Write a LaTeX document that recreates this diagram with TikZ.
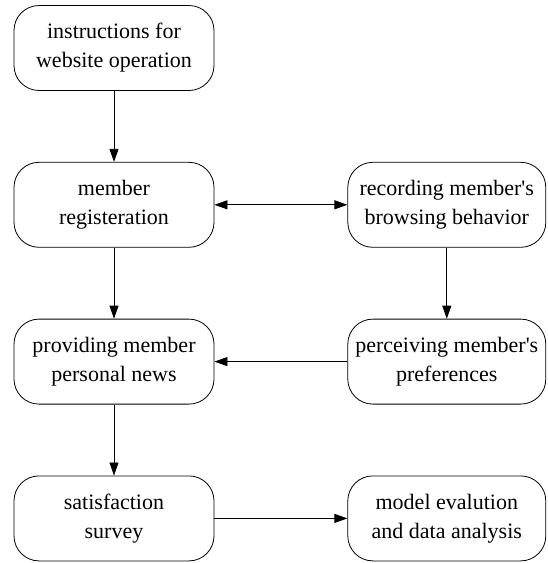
\documentclass[tikz,border=0pt]{standalone}
\usepackage{fontspec}
\setmainfont{Liberation Serif}[Ligatures=TeX]
\usetikzlibrary{arrows.meta,positioning}
\tikzset{
  stepbox/.style={draw, line width=0.8pt, rounded corners=25pt, align=center,
    minimum width=200pt, minimum height=85pt, inner sep=0pt,
    font=\rmfamily\fontsize{22}{29}\selectfont},
  flow/.style={->, line width=0.8pt}
}
\begin{document}
\begin{tikzpicture}[x=1pt, y=-1pt, >={Triangle[length=13pt,width=9pt]}]
\useasboundingbox (0,0) rectangle (547,563);
% linke Spalte
\node[stepbox] (instr) at (114,48) {instructions for\\website operation};
\node[stepbox, below=71pt of instr] (reg) {member\\registeration};
\node[stepbox, below=71pt of reg] (news) {providing member\\personal news};
\node[stepbox, below=71pt of news] (survey) {satisfaction\\survey};
% rechte Spalte
\node[stepbox, minimum width=198pt, right=133pt of reg] (rec) {recording member\textquotesingle s\\browsing behavior};
\node[stepbox, minimum width=198pt, right=133pt of news] (pref) {perceiving member\textquotesingle s\\preferences};
\node[stepbox, minimum width=198pt, right=133pt of survey] (eval) {model evalution\\and data analysis};
% Pfeile
\draw[flow] (instr) -- (reg);
\draw[flow] (reg) -- (news);
\draw[flow] (news) -- (survey);
\draw[flow, <->] (reg) -- (rec);
\draw[flow] (rec) -- (pref);
\draw[flow] (pref) -- (news);
\draw[flow] (survey) -- (eval);
\end{tikzpicture}
\end{document}
